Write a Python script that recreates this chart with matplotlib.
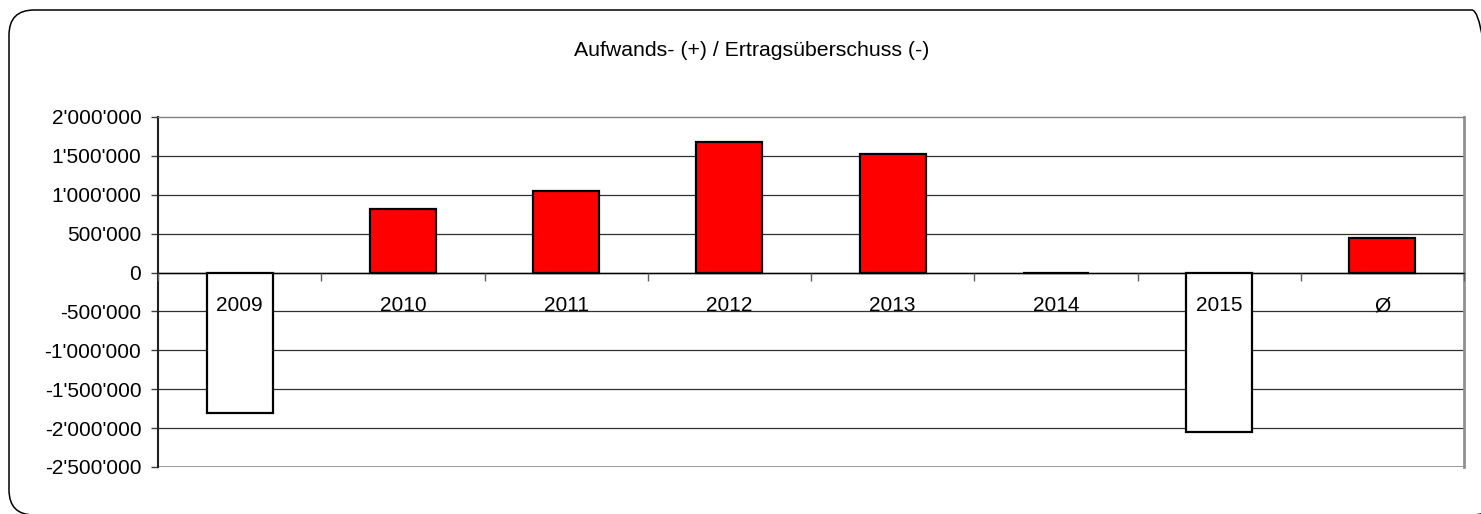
import matplotlib
matplotlib.use("Agg")
import matplotlib.pyplot as plt
from matplotlib.patches import FancyBboxPatch
from matplotlib.ticker import FuncFormatter, FixedLocator
import numpy as np

plt.rcParams['font.family'] = ['Liberation Sans', 'DejaVu Sans']

categories = ['2009', '2010', '2011', '2012', '2013', '2014', '2015', 'Ø']
values = [-1800000, 814000, 1050000, 1675000, 1520000, -8000, -2053000, 441000]
title = 'Aufwands- (+) / Ertragsüberschuss (-)'
y_ticks = [-2500000, -2000000, -1500000, -1000000, -500000, 0, 500000, 1000000, 1500000, 2000000]

W, H = 1481, 514
fig = plt.figure(figsize=(W / 100, H / 100), dpi=100)

# rounded outer border (extends past the right and bottom edges)
aspect = W / H
left_px, top_px, right_px, bottom_px = 9, 10, 1497, 515
fig.patches.append(FancyBboxPatch((left_px / W, 1 - bottom_px / H),
                                  (right_px - left_px) / W, (bottom_px - top_px) / H,
                                  boxstyle="round,pad=0,rounding_size=0.017",
                                  mutation_aspect=aspect,
                                  transform=fig.transFigure, fill=False,
                                  edgecolor='black', linewidth=1.1))

ax = fig.add_axes([158 / W, 1 - 467 / H, (1464 - 158) / W, (467 - 117) / H])

x = np.arange(len(categories))
colors = ['#FF0000' if v > 0 else 'white' for v in values]
ax.bar(x, values, width=0.405, color=colors, edgecolor='black', linewidth=1.6, zorder=3)

ax.set_xlim(-0.5, len(categories) - 0.5)
ax.set_ylim(y_ticks[0], y_ticks[-1])
ax.set_yticks(y_ticks)
ax.yaxis.set_major_formatter(FuncFormatter(lambda v, p: f"{v:,.0f}".replace(',', "'")))
ax.tick_params(axis='y', length=5, width=1, pad=7, labelsize=15, color='#404040')

for yv in y_ticks[1:-1]:
    ax.axhline(yv, color='#303030' if yv != 0 else 'black', linewidth=0.9, zorder=1)

# x axis at zero with boundary ticks
ax.spines['bottom'].set_position(('data', 0))
ax.spines['bottom'].set_color('black')
ax.spines['bottom'].set_linewidth(1.0)
ax.xaxis.set_major_locator(FixedLocator(np.arange(len(categories) + 1) - 0.5))
ax.xaxis.set_major_formatter(FuncFormatter(lambda v, p: ''))
ax.xaxis.set_minor_locator(FixedLocator(x))
ax.set_xticklabels(categories, minor=True)
ax.tick_params(axis='x', which='major', length=6, width=1, color='#606060', direction='out')
ax.tick_params(axis='x', which='minor', length=0, pad=17, labelsize=15)
ax.xaxis.set_zorder(5)

ax.spines['left'].set_color('#202020')
ax.spines['left'].set_linewidth(1.5)
ax.spines['top'].set_color('#808080')
ax.spines['top'].set_linewidth(1.0)
ax.spines['right'].set_color('#909090')
ax.spines['right'].set_linewidth(2.0)
ax.axhline(y_ticks[0], color='#909090', linewidth=2.0, zorder=1)

fig.text(752 / W, 1 - 51 / H, title, ha='center', va='center', fontsize=15.3)

fig.savefig('out.png', dpi=100)
